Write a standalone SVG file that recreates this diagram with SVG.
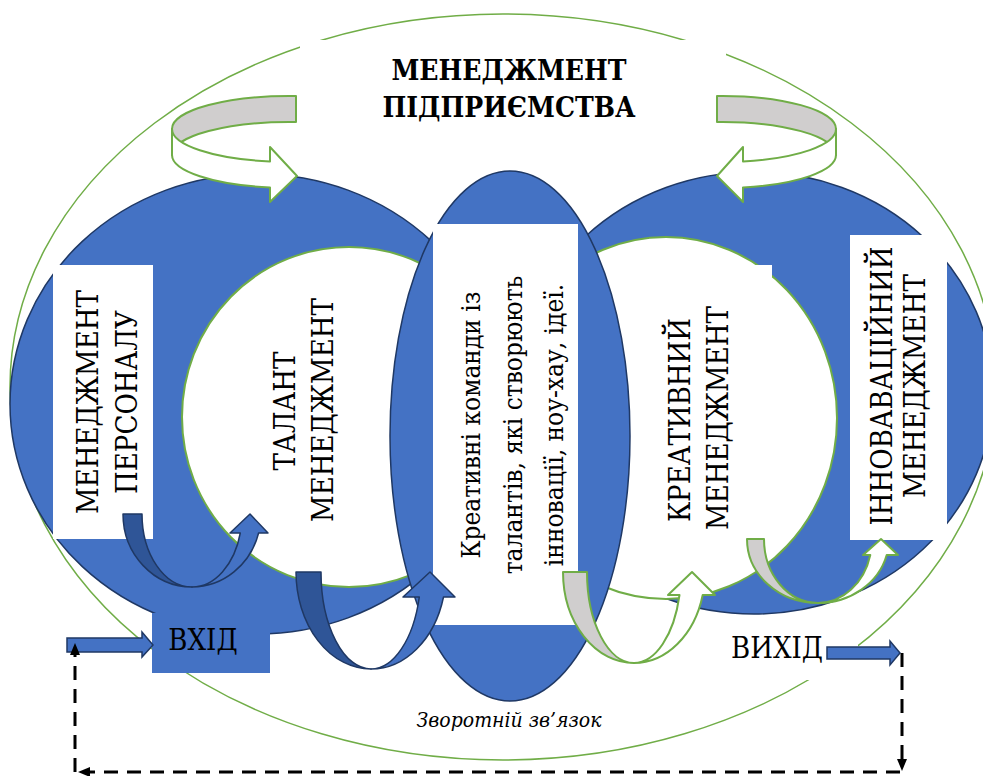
<svg xmlns="http://www.w3.org/2000/svg" width="983" height="776" viewBox="0 0 983 776">
<style>
.blue{fill:#4472c4;stroke:#1f3864;stroke-width:1.5}
.inner{fill:#ffffff;stroke:#70ad47;stroke-width:2}
.box{fill:#ffffff}
.t{font-family:"DejaVu Serif Condensed","DejaVu Serif","Liberation Serif",serif;font-stretch:condensed;fill:#000000}
.v{font-size:29px;text-anchor:middle}
.c{font-size:26px;text-anchor:middle}
.io{font-size:29px;text-anchor:middle}
.title{font-size:28px;font-weight:bold;text-anchor:middle}
.dtail{fill:#2f5597;stroke:#1f3864;stroke-width:1.5;stroke-linejoin:round}
.dhead{fill:#4472c4;stroke:#1f3864;stroke-width:1.5;stroke-linejoin:round}
.gtail{fill:#d0cece;stroke:#70ad47;stroke-width:2;stroke-linejoin:round}
.ghead{fill:#ffffff;stroke:#70ad47;stroke-width:2;stroke-linejoin:round}
.dash{fill:none;stroke:#000000;stroke-width:3;stroke-dasharray:14 9}
</style>
<defs>
<marker id="ah" viewBox="0 0 12 10" refX="2" refY="5" markerWidth="12" markerHeight="10" markerUnits="userSpaceOnUse" orient="auto">
<path d="M0,0 L12,5 L0,10 Z" fill="#000000"/>
</marker>
</defs>

<g id="enterprise">
<ellipse cx="503" cy="387" rx="493" ry="373" fill="#ffffff" stroke="#70ad47" stroke-width="1.5"/>
<rect class="box" x="300" y="40" width="426" height="95"/>
<text class="t title" x="509" y="80">МЕНЕДЖМЕНТ</text>
<text class="t title" x="509" y="117">ПІДПРИЄМСТВА</text>
</g>

<g id="rings">
<ellipse class="blue" cx="257" cy="404" rx="247" ry="230"/>
<ellipse class="blue" cx="754" cy="393" rx="239" ry="221"/>
<ellipse class="inner" cx="349" cy="417" rx="167" ry="170"/>
<ellipse class="inner" cx="666" cy="418" rx="171" ry="181"/>
<ellipse class="blue" cx="510" cy="436" rx="120" ry="265"/>
</g>

<g id="personnel">
<rect class="box" x="53" y="265" width="100" height="274"/>
<text class="t v" transform="translate(98,402) rotate(-90)">МЕНЕДЖМЕНТ</text>
<text class="t v" transform="translate(137,402) rotate(-90)">ПЕРСОНАЛУ</text>
</g>

<g id="talent">
<text class="t v" transform="translate(295,411) rotate(-90)">ТАЛАНТ</text>
<text class="t v" transform="translate(333,410) rotate(-90)">МЕНЕДЖМЕНТ</text>
</g>

<g id="teams">
<rect class="box" x="433" y="224" width="145" height="401"/>
<text class="t c" transform="translate(480,425) rotate(-90)">Креативні команди із</text>
<text class="t c" transform="translate(522,425) rotate(-90)">талантів, які створюють</text>
<text class="t c" transform="translate(563,425) rotate(-90)">інновації, ноу-хау, ідеї.</text>
</g>

<g id="creative">
<rect class="box" x="640" y="265" width="132" height="275"/>
<text class="t v" transform="translate(690,420) rotate(-90)">КРЕАТИВНИЙ</text>
<text class="t v" transform="translate(728,418) rotate(-90)">МЕНЕДЖМЕНТ</text>
</g>

<g id="innovation">
<rect class="box" x="850" y="235" width="97" height="305"/>
<text class="t v" transform="translate(892,386) rotate(-90)">ІННОВАВАЦІЙНИЙ</text>
<text class="t v" transform="translate(925,386) rotate(-90)">МЕНЕДЖМЕНТ</text>
</g>

<g id="input">
<rect x="152" y="613" width="118" height="60" fill="#4472c4"/>
<text class="t io" x="203" y="650">ВХІД</text>
</g>

<g id="output">
<rect class="box" x="722" y="643" width="136" height="37"/>
<text class="t io" x="777" y="658">ВИХІД</text>
</g>

<g id="connectors">
<path class="gtail" d="M296,96 A118 33 0 0 0 172,129 L172,155 A118 33 0 0 1 296,122 Z"/>
<path class="ghead" d="M172,129 A118 33 0 0 0 270,161.5 L270,147 L297,176 L270,202 L270,187.5 A118 33 0 0 1 172,155 Z"/>
<path class="gtail" d="M717,96 A114 33 0 0 1 836,129 L836,155 A114 33 0 0 0 717,122 Z"/>
<path class="ghead" d="M836,129 A114 33 0 0 1 743,161.5 L743,147 L717,176 L743,202 L743,187.5 A114 33 0 0 0 836,155 Z"/>

<path class="dtail" d="M123,514 A69 73 0 0 0 192,587 A50 73 0 0 1 142,514 Z"/>
<path class="dhead" d="M192,587 A69 73 0 0 0 258.6,533 L268,533 L250,514 L230,533 L240.3,533 A50 73 0 0 1 192,587 Z"/>

<path class="dtail" d="M296,572 A75 97 0 0 0 371,669 A50 97 0 0 1 321,572 Z"/>
<path class="dhead" d="M371,669 A75 97 0 0 0 443.5,597 L455,597 L430,572 L403,597 L419.3,597 A50 97 0 0 1 371,669 Z"/>

<path class="gtail" d="M563,572 A71 91 0 0 0 634,663 A47 91 0 0 1 587,572 Z"/>
<path class="ghead" d="M634,663 A71 91 0 0 0 702.7,595 L715,595 L692,572 L668,595 L679.5,595 A47 91 0 0 1 634,663 Z"/>

<path class="gtail" d="M747,539 A71 64 0 0 0 818,603 A54 64 0 0 1 764,539 Z"/>
<path class="ghead" d="M818,603 A71 64 0 0 0 886.7,555 L898,555 L881,539 L863,555 L870.3,555 A54 64 0 0 1 818,603 Z"/>

<path class="blue" d="M67,638 L142,638 L142,632 L153,645 L142,657 L142,652 L67,652 Z"/>
<path class="blue" d="M827,647 L890,647 L890,641 L900,653 L890,665 L890,659 L827,659 Z"/>

<path class="dash" d="M902,653 L902,761" marker-end="url(#ah)"/>
<path class="dash" d="M900,772 L88,772" marker-end="url(#ah)"/>
<path class="dash" d="M75,772 L75,653" marker-end="url(#ah)"/>
<text class="t" x="509" y="727" font-size="21" font-style="italic" text-anchor="middle">Зворотній зв’язок</text>
</g>
</svg>
